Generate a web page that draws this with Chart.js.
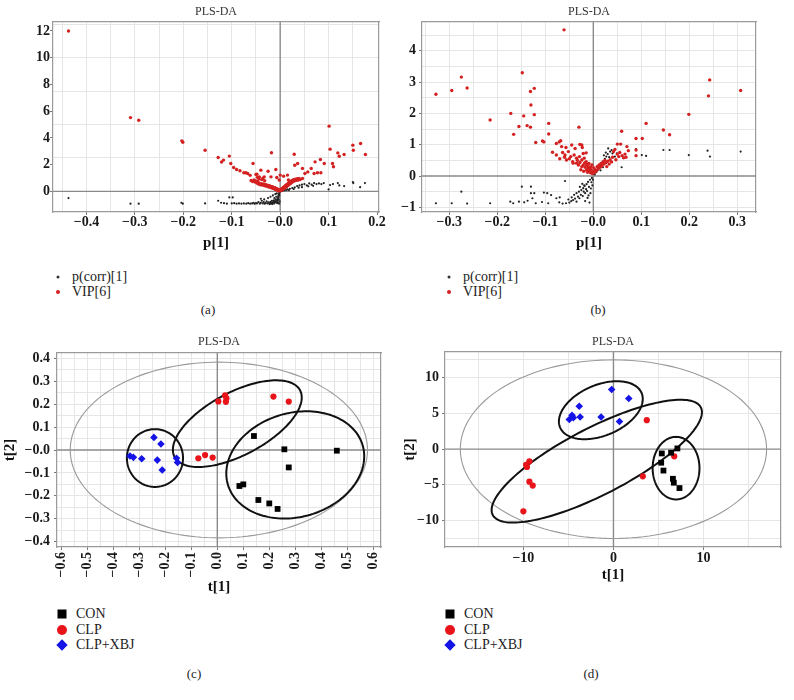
<!DOCTYPE html>
<html>
<head>
<meta charset="utf-8">
<script src="https://cdn.jsdelivr.net/npm/chart.js@4.4.1/dist/chart.umd.min.js"></script>
<style>
  body { margin: 0; background: #fff; width: 794px; height: 700px; position: relative; overflow: hidden;
         font-family: "Liberation Serif", "DejaVu Serif", serif; color: #222; }
  canvas { position: absolute; }
  .txt { position: absolute; line-height: 1; white-space: nowrap; font-size: 14px; transform: translateY(-50%); }
  .cap { position: absolute; line-height: 1; font-size: 13px; transform: translate(-50%, -50%); }
  .mk { position: absolute; transform: translate(-50%, -50%); }
  .dotk { width: 3px; height: 3px; border-radius: 50%; background: #333; }
  .dotr { width: 4px; height: 4px; border-radius: 50%; background: #d42020; }
  .sq { width: 9px; height: 9px; background: #000; }
  .ci { width: 10px; height: 10px; border-radius: 50%; background: #e8141a; }
  .di { width: 8px; height: 8px; background: #1414e6; transform: translate(-50%, -50%) rotate(45deg); }
</style>
</head>
<body>
<canvas id="chartA" width="400" height="255" style="left:0;top:0;width:400px;height:255px"></canvas>
<canvas id="chartB" width="394" height="255" style="left:400px;top:0;width:394px;height:255px"></canvas>
<canvas id="chartC" width="400" height="270" style="left:0;top:330px;width:400px;height:270px"></canvas>
<canvas id="chartD" width="394" height="260" style="left:400px;top:330px;width:394px;height:260px"></canvas>

<script>
const SERIF = '"Liberation Serif", "DejaVu Serif", serif';
const TITLE = 'PLS-DA';

// ---- panel (a): loadings, p(corr)[1] and VIP[6] against p[1]
const abNames = ['p(corr)[1]', 'VIP[6]'];
const aXTicks = [-0.4, -0.3, -0.2, -0.1, 0, 0.1, 0.2];
const aXLabels = ['−0.4', '−0.3', '−0.2', '−0.1', '−0.0', '0.1', '0.2'];
const aYTicks = [0, 2, 4, 6, 8, 10, 12];
const aYLabels = ['0', '2', '4', '6', '8', '10', '12'];
const aXGrid = [-0.45, -0.4, -0.35, -0.3, -0.25, -0.2, -0.15, -0.1, -0.05, 0.05, 0.1, 0.15];
const aYGrid = [2.5, 5, 7.5, 10, 12.5];

const aVip = [
  [-0.437, 12.0], [-0.309, 5.52], [-0.292, 5.32], [-0.203, 3.78], [-0.201, 3.68], [-0.155, 3.08],
  [-0.128, 2.54], [-0.121, 2.2], [-0.117, 2.34], [-0.105, 2.64], [-0.102, 2.09], [-0.096, 1.79],
  [-0.09, 1.64], [-0.083, 1.54], [-0.075, 1.39], [-0.067, 1.34], [-0.062, 1.2], [-0.056, 2.09],
  [-0.048, 1.29], [-0.043, 1.09], [-0.036, 0.97], [-0.025, 1.51], [-0.019, 1.09], [-0.018, 2.89],
  [-0.009, 1.64], [-0.007, 1.04], [0.0, 1.22], [0.007, 1.14], [0.015, 1.22], [0.029, 2.78],
  [0.03, 1.96], [0.036, 2.09], [0.046, 1.72], [0.051, 1.34], [0.057, 1.46], [0.064, 1.72],
  [0.07, 1.34], [0.077, 1.39], [0.084, 1.39], [0.072, 2.21], [0.083, 2.39], [0.091, 2.09],
  [0.101, 4.88], [0.103, 3.16], [0.108, 2.09], [0.11, 1.84], [0.119, 2.88], [0.122, 2.63],
  [0.132, 2.76], [0.15, 3.46], [0.151, 3.08], [0.166, 3.58], [0.176, 2.76], [0.046, 0.97],
  [0.036, 0.85], [0.017, 0.85], [-0.002, 0.85], [-0.033, 1.09], [-0.05, 1.27], [-0.04, 1.59],
  [-0.071, 1.39], [-0.06, 0.82], [-0.057, 0.74], [-0.054, 0.86], [-0.052, 0.7], [-0.05, 0.78],
  [-0.047, 0.66], [-0.046, 0.74], [-0.047, 1.05], [-0.044, 0.95], [-0.038, 0.88], [-0.032, 0.8],
  [-0.048, 0.62], [-0.045, 0.55], [-0.043, 0.6], [-0.041, 0.5], [-0.039, 0.58], [-0.037, 0.47],
  [-0.035, 0.55], [-0.033, 0.44], [-0.031, 0.52], [-0.03, 0.4], [-0.028, 0.48], [-0.026, 0.36],
  [-0.025, 0.45], [-0.023, 0.33], [-0.022, 0.42], [-0.02, 0.3], [-0.019, 0.38], [-0.017, 0.26],
  [-0.016, 0.35], [-0.014, 0.22], [-0.013, 0.3], [-0.012, 0.19], [-0.011, 0.27], [-0.01, 0.15],
  [-0.009, 0.23], [-0.008, 0.12], [-0.007, 0.2], [-0.006, 0.1], [-0.005, 0.16], [-0.004, 0.07],
  [-0.003, 0.12], [-0.002, 0.05], [-0.001, 0.09], [0.0, 0.04],
  [0.001, 0.1], [0.002, 0.16], [0.003, 0.08], [0.004, 0.22], [0.005, 0.14], [0.006, 0.28],
  [0.007, 0.2], [0.008, 0.34], [0.009, 0.26], [0.01, 0.4], [0.011, 0.31], [0.012, 0.46],
  [0.013, 0.37], [0.014, 0.52], [0.015, 0.42], [0.016, 0.58], [0.017, 0.48], [0.018, 0.63],
  [0.019, 0.54], [0.02, 0.69], [0.021, 0.6], [0.022, 0.74], [0.023, 0.65], [0.024, 0.8],
  [0.025, 0.7], [0.026, 0.84], [0.027, 0.75], [0.028, 0.88], [0.03, 0.8], [0.031, 0.92],
  [0.033, 0.84], [0.035, 0.95], [0.037, 0.86], [0.039, 0.97], [0.041, 0.88]
];

const aCorr = [
  [-0.437, -0.5], [-0.309, -0.92], [-0.292, -0.92], [-0.204, -0.85], [-0.201, -0.92], [-0.155, -0.9],
  [-0.128, -0.7], [-0.122, -0.85], [-0.116, -0.88], [-0.11, -0.92], [-0.105, -0.45], [-0.098, -0.45],
  [-0.1, -0.9], [-0.095, -0.88], [-0.09, -0.92], [-0.085, -0.9], [-0.08, -0.92], [-0.075, -0.9],
  [-0.07, -0.92], [-0.066, -0.88], [-0.062, -0.92], [-0.058, -0.9], [-0.055, -0.85], [-0.053, -0.93],
  [-0.05, -0.88], [-0.048, -0.9], [-0.045, -0.8], [-0.042, -0.92], [-0.04, -0.85], [-0.04, -0.55],
  [-0.038, -0.7], [-0.036, -0.9], [-0.034, -0.8], [-0.033, -0.6], [-0.032, -0.92], [-0.03, -0.88],
  [-0.028, -0.75], [-0.026, -0.9], [-0.025, -0.5], [-0.024, -0.82], [-0.022, -0.95], [-0.021, -0.88],
  [-0.02, -0.78], [-0.02, -0.4], [-0.019, -0.92], [-0.018, -0.84], [-0.017, -0.7], [-0.016, -0.95],
  [-0.015, -0.86], [-0.015, -0.3], [-0.014, -0.78], [-0.013, -0.66], [-0.012, -0.9], [-0.012, -0.5],
  [-0.011, -0.8], [-0.01, -0.72], [-0.01, -0.2], [-0.009, -0.6], [-0.008, -0.82], [-0.008, -0.4],
  [-0.007, -0.76], [-0.007, -0.15], [-0.006, -0.88], [-0.006, -0.64], [-0.005, -0.7], [-0.005, -0.5],
  [-0.004, -0.58], [-0.004, -0.85], [-0.004, -0.35], [-0.003, -0.42], [-0.003, -0.6], [-0.003, -0.2],
  [-0.002, -0.28], [-0.002, -0.12], [-0.002, -0.92], [-0.001, -0.05], [-0.001, -0.75],
  [0.002, 0.02], [0.005, 0.05], [0.008, 0.08], [0.012, 0.1], [0.015, 0.15], [0.018, 0.1],
  [0.02, 0.2], [0.025, 0.25], [0.028, 0.18], [0.03, 0.3], [0.035, 0.4], [0.038, 0.28],
  [0.04, 0.45], [0.045, 0.5], [0.045, 0.32], [0.05, 0.55], [0.055, 0.45], [0.058, 0.38],
  [0.06, 0.6], [0.065, 0.5], [0.068, 0.42], [0.07, 0.62], [0.075, 0.55], [0.08, 0.6],
  [0.085, 0.55], [0.09, 0.62], [0.1, 0.15], [0.103, 0.47], [0.109, 0.55], [0.119, 0.62],
  [0.122, 0.45], [0.132, 0.4], [0.15, 0.7], [0.151, 0.62], [0.165, 0.32], [0.175, 0.62]
];

// ---- panel (b)
const bXTicks = [-0.3, -0.2, -0.1, 0, 0.1, 0.2, 0.3];
const bXLabels = ['−0.3', '−0.2', '−0.1', '−0.0', '0.1', '0.2', '0.3'];
const bYTicks = [-1, 0, 1, 2, 3, 4];
const bYLabels = ['−1', '0', '1', '2', '3', '4'];
const bXGrid = [-0.35, -0.3, -0.25, -0.2, -0.15, -0.1, -0.05, 0.05, 0.1, 0.15, 0.2, 0.25, 0.3];
const bYGrid = [-1, -0.5, 0.5, 1, 1.5, 2, 2.5, 3, 3.5, 4, 4.5];

const bVip = [
  [-0.328, 2.61], [-0.295, 2.73], [-0.275, 3.16], [-0.263, 2.81], [-0.215, 1.79], [-0.172, 2.0],
  [-0.166, 1.33], [-0.155, 1.58], [-0.148, 3.3], [-0.145, 1.92], [-0.138, 1.61], [-0.131, 2.7],
  [-0.131, 1.56], [-0.13, 2.27], [-0.123, 2.8], [-0.123, 1.96], [-0.12, 1.07], [-0.106, 1.12],
  [-0.103, 1.09], [-0.093, 1.68], [-0.093, 1.34], [-0.085, 0.76], [-0.077, 1.04], [-0.071, 1.09],
  [-0.068, 1.13], [-0.077, 0.67], [-0.061, 4.67], [-0.066, 0.94], [-0.059, 0.67], [-0.057, 0.91],
  [-0.064, 0.75], [-0.052, 0.78], [-0.045, 0.99], [-0.038, 0.88], [-0.03, 1.56], [-0.028, 1.01],
  [-0.023, 0.91], [-0.047, 0.62], [-0.04, 0.67], [-0.035, 0.57], [-0.029, 0.62], [-0.024, 0.51],
  [-0.019, 0.57], [-0.015, 0.46], [-0.014, 0.35], [-0.01, 0.3], [-0.008, 0.25], [-0.056, 0.51],
  [-0.043, 0.46], [-0.035, 0.41], [-0.028, 0.43], [-0.021, 0.35], [-0.017, 0.28], [-0.042, 0.41],
  [-0.031, 0.35], [-0.024, 0.3], [-0.014, 0.19], [-0.021, 0.72], [-0.015, 0.74], [-0.024, 0.99],
  [-0.012, 0.12], [-0.009, 0.15], [-0.006, 0.1], [-0.004, 0.18], [-0.002, 0.08], [0.0, 0.14],
  [0.002, 0.1], [0.004, 0.2], [-0.007, 0.22], [-0.011, 0.24], [-0.005, 0.28], [0.001, 0.26],
  [0.006, 0.16], [0.008, 0.3], [0.01, 0.22], [0.012, 0.35], [0.014, 0.28], [0.016, 0.4],
  [0.018, 0.32], [0.02, 0.45], [0.022, 0.38], [0.024, 0.5], [0.026, 0.42], [0.028, 0.3],
  [0.03, 0.47], [0.033, 0.38], [0.035, 0.52], [0.038, 0.45], [0.04, 0.6], [0.042, 0.78],
  [0.045, 0.85], [0.047, 0.52], [0.05, 0.7], [0.05, 1.02], [0.053, 0.62], [0.055, 0.75],
  [0.057, 1.02], [0.06, 0.65], [0.063, 0.58], [0.059, 1.43], [0.066, 0.7], [0.07, 0.94],
  [0.073, 0.81], [0.068, 0.6], [0.089, 1.2], [0.102, 1.2], [0.089, 0.83], [0.089, 0.65],
  [0.11, 1.68], [0.146, 1.47], [0.159, 1.32], [0.199, 1.97], [0.24, 2.56], [0.2425, 3.07],
  [0.307, 2.73], [-0.026, 0.2], [-0.02, 0.15], [-0.018, 0.42], [-0.013, 0.38], [-0.009, 0.4],
  [-0.003, 0.35], [-0.033, 0.5], [-0.05, 0.55], [-0.06, 0.6], [-0.07, 0.55]
];

const bCorr = [
  [-0.328, -0.87], [-0.295, -0.87], [-0.275, -0.5], [-0.263, -0.88], [-0.215, -0.87], [-0.173, -0.82],
  [-0.167, -0.87], [-0.149, -0.34], [-0.155, -0.82], [-0.144, -0.84], [-0.137, -0.79], [-0.13, -0.34],
  [-0.13, -0.55], [-0.123, -0.55], [-0.127, -0.71], [-0.12, -0.87], [-0.103, -0.53], [-0.096, -0.55],
  [-0.088, -0.61], [-0.107, -0.83], [-0.094, -0.87], [-0.077, -0.71], [-0.07, -0.68], [-0.059, -0.16],
  [-0.071, -0.84], [-0.064, -0.88], [-0.057, -0.87], [-0.05, -0.85], [-0.052, -0.75], [-0.045, -0.68],
  [-0.04, -0.6], [-0.035, -0.55], [-0.03, -0.5], [-0.025, -0.45], [-0.021, -0.39], [-0.018, -0.32],
  [-0.014, -0.26], [-0.011, -0.19], [-0.007, -0.12], [-0.003, -0.06], [-0.042, -0.77], [-0.035, -0.82],
  [-0.029, -0.71], [-0.022, -0.64], [-0.017, -0.55], [-0.013, -0.48], [-0.012, -0.7], [-0.017, -0.8],
  [-0.008, -0.85], [-0.005, -0.4], [-0.002, -0.3], [-0.009, -0.35], [-0.015, -0.42], [-0.02, -0.5],
  [-0.026, -0.6], [-0.032, -0.66], [-0.038, -0.72], [-0.046, -0.8], [-0.004, -0.2], [-0.001, -0.12],
  [-0.006, -0.55], [-0.01, -0.62], [-0.019, -0.3], [-0.023, -0.25], [-0.028, -0.35],
  [0.003, 0.05], [0.006, 0.12], [0.009, 0.18], [0.012, 0.25], [0.015, 0.32], [0.018, 0.4],
  [0.021, 0.47], [0.024, 0.55], [0.027, 0.62], [0.03, 0.7], [0.031, 0.88], [0.038, 0.83],
  [0.035, 0.78], [0.026, 0.75], [0.022, 0.66], [0.033, 0.6], [0.04, 0.72], [0.049, 0.72],
  [0.056, 0.74], [0.059, 0.28], [0.089, 0.86], [0.101, 0.67], [0.11, 0.64], [0.146, 0.83],
  [0.159, 0.83], [0.199, 0.67], [0.238, 0.81], [0.243, 0.62], [0.307, 0.78], [0.045, 0.62],
  [0.015, 0.18], [0.02, 0.28], [0.008, 0.3]
];

// ---- panel (c): scores t[1] / t[2]
const cdNames = ['CON', 'CLP', 'CLP+XBJ'];
const cXTicks = [-0.6, -0.5, -0.4, -0.3, -0.2, -0.1, 0, 0.1, 0.2, 0.3, 0.4, 0.5, 0.6];
const cXLabels = ['−0.6', '−0.5', '−0.4', '−0.3', '−0.2', '−0.1', '0.0', '0.1', '0.2', '0.3', '0.4', '0.5', '0.6'];
const cYTicks = [-0.4, -0.3, -0.2, -0.1, 0, 0.1, 0.2, 0.3, 0.4];
const cYLabels = ['−0.4', '−0.3', '−0.2', '−0.1', '−0.0', '0.1', '0.2', '0.3', '0.4'];
const cXGrid = [-0.6, -0.55, -0.5, -0.45, -0.4, -0.35, -0.3, -0.25, -0.2, -0.15, -0.1, -0.05,
                0.05, 0.1, 0.15, 0.2, 0.25, 0.3, 0.35, 0.4, 0.45, 0.5, 0.55, 0.6];
const cYGrid = [-0.4, -0.35, -0.3, -0.25, -0.2, -0.15, -0.1, -0.05, 0.05, 0.1, 0.15, 0.2, 0.25, 0.3, 0.35, 0.4];

const cCon = [[0.141, 0.061], [0.258, 0.003], [0.46, -0.003], [0.275, -0.076], [0.085, -0.157],
              [0.1, -0.15], [0.158, -0.218], [0.2, -0.233], [0.232, -0.257]];
const cClp = [[0.004, 0.212], [0.03, 0.238], [0.035, 0.225], [0.033, 0.21], [0.216, 0.233],
              [0.275, 0.211], [-0.073, -0.036], [-0.047, -0.022], [-0.018, -0.033]];
const cXbj = [[-0.244, 0.055], [-0.217, 0.026], [-0.336, -0.026], [-0.323, -0.032], [-0.291, -0.038],
              [-0.231, -0.044], [-0.212, -0.087], [-0.157, -0.036], [-0.153, -0.054]];

// ellipses: [centre x, centre y, axis-1 x, axis-1 y, axis-2 x, axis-2 y] in data units
const cHotelling = [0.006, 0, 0.572, 0, 0, 0.383];
const cEllCon = [0.30, -0.065, 0.259, 0.087, 0.058, -0.217];
const cEllClp = [0.077, 0.115, 0.239, 0.15, 0.066, -0.115];
const cEllXbj = [-0.24, -0.035, 0.108, 0, 0, 0.126];

// ---- panel (d)
const dXTicks = [-10, 0, 10];
const dXLabels = ['−10', '0', '10'];
const dYTicks = [-10, -5, 0, 5, 10];
const dYLabels = ['−10', '−5', '0', '5', '10'];
const dXGrid = [-15, -10, -5, 5, 10, 15];
const dYGrid = [-12.5, -10, -5, 5, 10, 12.5];

const dCon = [[5.37, -0.6], [6.4, -0.5], [7.1, 0.1], [5.3, -1.9], [5.55, -3.0], [6.6, -4.15],
              [6.7, -4.7], [7.33, -5.45]];
const dClp = [[3.7, 4.05], [6.75, -1.0], [3.26, -3.8], [-9.33, -1.7], [-9.6, -2.5], [-9.7, -2.2],
              [-9.33, -4.55], [-8.96, -5.1], [-10.0, -8.7]];
const dXbj = [[-0.2, 8.35], [1.7, 7.1], [-3.8, 6.0], [-4.6, 4.75], [-4.9, 4.15], [-3.7, 4.5],
              [-1.37, 4.5], [0.67, 3.87], [-4.45, 4.4]];

const dHotelling = [0, 0, 17, 0, 0, 12.5];
const dEllCon = [6.95, -2.66, 2.6, 0, 0, 4.38];
const dEllClp = [-1.85, -1.68, 11.55, 7.53, 1.7, -4.15];
const dEllXbj = [-1.4, 5.45, 4.52, 2.42, 1.11, -3.26];

// origin cross and confidence ellipses, drawn under the markers
const shapesPlugin = {
  id: 'shapes',
  beforeDatasetsDraw(chart, args, opts) {
    const {ctx, chartArea: a, scales: {x, y}} = chart;
    ctx.save();
    ctx.beginPath();
    ctx.rect(a.left, a.top, a.right - a.left, a.bottom - a.top);
    ctx.clip();
    const x0 = x.getPixelForValue(0), y0 = y.getPixelForValue(0);
    ctx.strokeStyle = '#8a8a8a';
    ctx.lineWidth = 1.4;
    ctx.beginPath();
    ctx.moveTo(x0, a.top); ctx.lineTo(x0, a.bottom);
    ctx.moveTo(a.left, y0); ctx.lineTo(a.right, y0);
    ctx.stroke();
    (opts.ellipses || []).forEach(e => {
      const p = e.p;
      ctx.strokeStyle = e.color;
      ctx.lineWidth = e.width;
      ctx.beginPath();
      for (let k = 0; k <= 160; k++) {
        const t = k / 160 * Math.PI * 2;
        const vx = p[0] + Math.cos(t) * p[2] + Math.sin(t) * p[4];
        const vy = p[1] + Math.cos(t) * p[3] + Math.sin(t) * p[5];
        const px = x.getPixelForValue(vx), py = y.getPixelForValue(vy);
        if (k === 0) ctx.moveTo(px, py); else ctx.lineTo(px, py);
      }
      ctx.closePath();
      ctx.stroke();
    });
    ctx.restore();
  }
};

function toPoints(arr) {
  return arr.map(p => ({x: p[0], y: p[1]}));
}

function makePanel(id, g, datasets, ellipses) {
  const tickFont = {family: SERIF, size: 14, weight: 'bold', lineHeight: 1};
  const axTitleFont = {family: SERIF, size: 15, weight: 'bold', lineHeight: 1.2};
  const setTicks = vals => s => { s.ticks = vals.map(v => ({value: v})); };
  return new Chart(document.getElementById(id), {
    type: 'scatter',
    data: {datasets},
    options: {
      responsive: false,
      animation: false,
      events: [],
      layout: {padding: 0},
      plugins: {
        legend: {display: false},
        tooltip: {enabled: false},
        title: {
          display: true, text: TITLE, fullSize: false, color: '#333',
          font: {family: SERIF, size: 12, weight: 'normal', lineHeight: 1.2},
          padding: {top: 4.8, bottom: g.top - 19.2}
        },
        shapes: {ellipses: ellipses || []}
      },
      scales: {
        x: {
          type: 'linear', position: 'bottom', min: g.xMin, max: g.xMax,
          afterBuildTicks: setTicks(g.xTicks),
          afterFit: s => { s.height = g.h - g.bottom; },
          ticks: {
            font: tickFont, color: '#1a1a1a', padding: g.xPad, autoSkip: false,
            minRotation: g.xRot, maxRotation: g.xRot,
            callback: (v, i) => g.xLabels[i]
          },
          grid: {display: true, drawOnChartArea: false, drawTicks: true, tickLength: 3, color: '#777'},
          border: {display: true, color: '#9a9a9a', width: 1.2},
          title: {
            display: true, text: g.xTitle, color: '#111', font: axTitleFont,
            padding: {top: 0, bottom: g.xTitlePad}
          }
        },
        y: {
          type: 'linear', position: 'left', min: g.yMin, max: g.yMax,
          afterBuildTicks: setTicks(g.yTicks),
          afterFit: s => { s.width = g.left; },
          ticks: {
            font: tickFont, color: '#1a1a1a', padding: g.yPad, autoSkip: false,
            callback: (v, i) => g.yLabels[i]
          },
          grid: {display: true, drawOnChartArea: false, drawTicks: true, tickLength: 3, color: '#777'},
          border: {display: true, color: '#9a9a9a', width: 1.2},
          title: {
            display: !!g.yTitle, text: g.yTitle || '', color: '#111', font: axTitleFont,
            padding: {top: 1, bottom: 0}
          }
        },
        xg: {
          type: 'linear', position: 'top', min: g.xMin, max: g.xMax,
          afterBuildTicks: setTicks(g.xGrid),
          afterFit: s => { s.height = 0; },
          ticks: {display: false},
          grid: {display: true, drawTicks: false, color: '#e6e6e6', lineWidth: 1},
          border: {display: true, color: '#9a9a9a', width: 1.2}
        },
        yg: {
          type: 'linear', position: 'right', min: g.yMin, max: g.yMax,
          afterBuildTicks: setTicks(g.yGrid),
          afterFit: s => { s.width = g.w - g.right; },
          ticks: {display: false},
          grid: {display: true, drawTicks: false, color: '#e6e6e6', lineWidth: 1},
          border: {display: true, color: '#9a9a9a', width: 1.2}
        }
      }
    },
    plugins: [shapesPlugin]
  });
}

function loadingSets(corr, vip) {
  return [
    {label: abNames[1], data: toPoints(vip), order: 0, pointStyle: 'circle', pointRadius: 1.7,
     pointBorderWidth: 0, backgroundColor: '#d42020', borderColor: '#d42020', showLine: false},
    {label: abNames[0], data: toPoints(corr), order: 1, pointStyle: 'circle', pointRadius: 1.1,
     pointBorderWidth: 0, backgroundColor: '#222', borderColor: '#222', showLine: false}
  ];
}

function scoreSets(con, clp, xbj) {
  return [
    {label: cdNames[0], data: toPoints(con), pointStyle: 'rect', pointRadius: 4.1,
     pointBorderWidth: 0, backgroundColor: '#000', borderColor: '#000'},
    {label: cdNames[1], data: toPoints(clp), pointStyle: 'circle', pointRadius: 3.1,
     pointBorderWidth: 0, backgroundColor: '#e8141a', borderColor: '#e8141a'},
    {label: cdNames[2], data: toPoints(xbj), pointStyle: 'rectRot', pointRadius: 3.8,
     pointBorderWidth: 0, backgroundColor: '#1414e6', borderColor: '#1414e6'}
  ];
}

function ellipseSet(hot, list) {
  return [{p: hot, color: '#9a9a9a', width: 1.1}].concat(list.map(p => ({p, color: '#111', width: 2})));
}

makePanel('chartA', {
  w: 400, h: 255, left: 53, right: 379, top: 22, bottom: 212,
  xMin: -0.469, xMax: 0.204, yMin: -1.54, yMax: 12.67,
  xTicks: aXTicks, xLabels: aXLabels, yTicks: aYTicks, yLabels: aYLabels,
  xGrid: aXGrid, yGrid: aYGrid, xRot: 0, xPad: 0, yPad: 0,
  xTitle: 'p[1]', xTitlePad: 3
}, loadingSets(aCorr, aVip));

makePanel('chartB', {
  w: 394, h: 255, left: 22, right: 356, top: 22, bottom: 212,
  xMin: -0.357, xMax: 0.339, yMin: -1.15, yMax: 4.92,
  xTicks: bXTicks, xLabels: bXLabels, yTicks: bYTicks, yLabels: bYLabels,
  xGrid: bXGrid, yGrid: bYGrid, xRot: 0, xPad: 0, yPad: 3,
  xTitle: 'p[1]', xTitlePad: 3
}, loadingSets(bCorr, bVip));

makePanel('chartC', {
  w: 400, h: 270, left: 57, right: 381, top: 23, bottom: 217,
  xMin: -0.617, xMax: 0.63, yMin: -0.423, yMax: 0.423,
  xTicks: cXTicks, xLabels: cXLabels, yTicks: cYTicks, yLabels: cYLabels,
  xGrid: cXGrid, yGrid: cYGrid, xRot: 90, xPad: 2, yPad: 4,
  xTitle: 't[1]', xTitlePad: 4, yTitle: 't[2]'
}, scoreSets(cCon, cClp, cXbj), ellipseSet(cHotelling, [cEllCon, cEllClp, cEllXbj]));

makePanel('chartD', {
  w: 394, h: 260, left: 45, right: 381, top: 22, bottom: 217,
  xMin: -18.7, xMax: 18.6, yMin: -13.7, yMax: 13.6,
  xTicks: dXTicks, xLabels: dXLabels, yTicks: dYTicks, yLabels: dYLabels,
  xGrid: dXGrid, yGrid: dYGrid, xRot: 0, xPad: 1, yPad: 3,
  xTitle: 't[1]', xTitlePad: 6, yTitle: 't[2]'
}, scoreSets(dCon, dClp, dXbj), ellipseSet(dHotelling, [dEllCon, dEllClp, dEllXbj]));

// legends and panel captions as plain text
function addEl(cls, left, top, text) {
  const el = document.createElement('div');
  el.className = cls;
  el.style.left = left + 'px';
  el.style.top = top + 'px';
  if (text) el.textContent = text;
  document.body.appendChild(el);
}

function addLegend(mx, tx, rows, names, markers) {
  names.forEach((n, i) => {
    addEl('mk ' + markers[i], mx, rows[i]);
    addEl('txt', tx, rows[i], n);
  });
}

addLegend(57.5, 72, [277, 292], abNames, ['dotk', 'dotr']);
addLegend(449, 463, [277, 292], abNames, ['dotk', 'dotr']);
addLegend(62, 76, [614, 630, 645], cdNames, ['sq', 'ci', 'di']);
addLegend(450, 464, [614, 630, 645], cdNames, ['sq', 'ci', 'di']);

addEl('cap', 208, 309, '(a)');
addEl('cap', 598, 309, '(b)');
addEl('cap', 194, 673, '(c)');
addEl('cap', 591, 673, '(d)');
</script>
</body>
</html>
